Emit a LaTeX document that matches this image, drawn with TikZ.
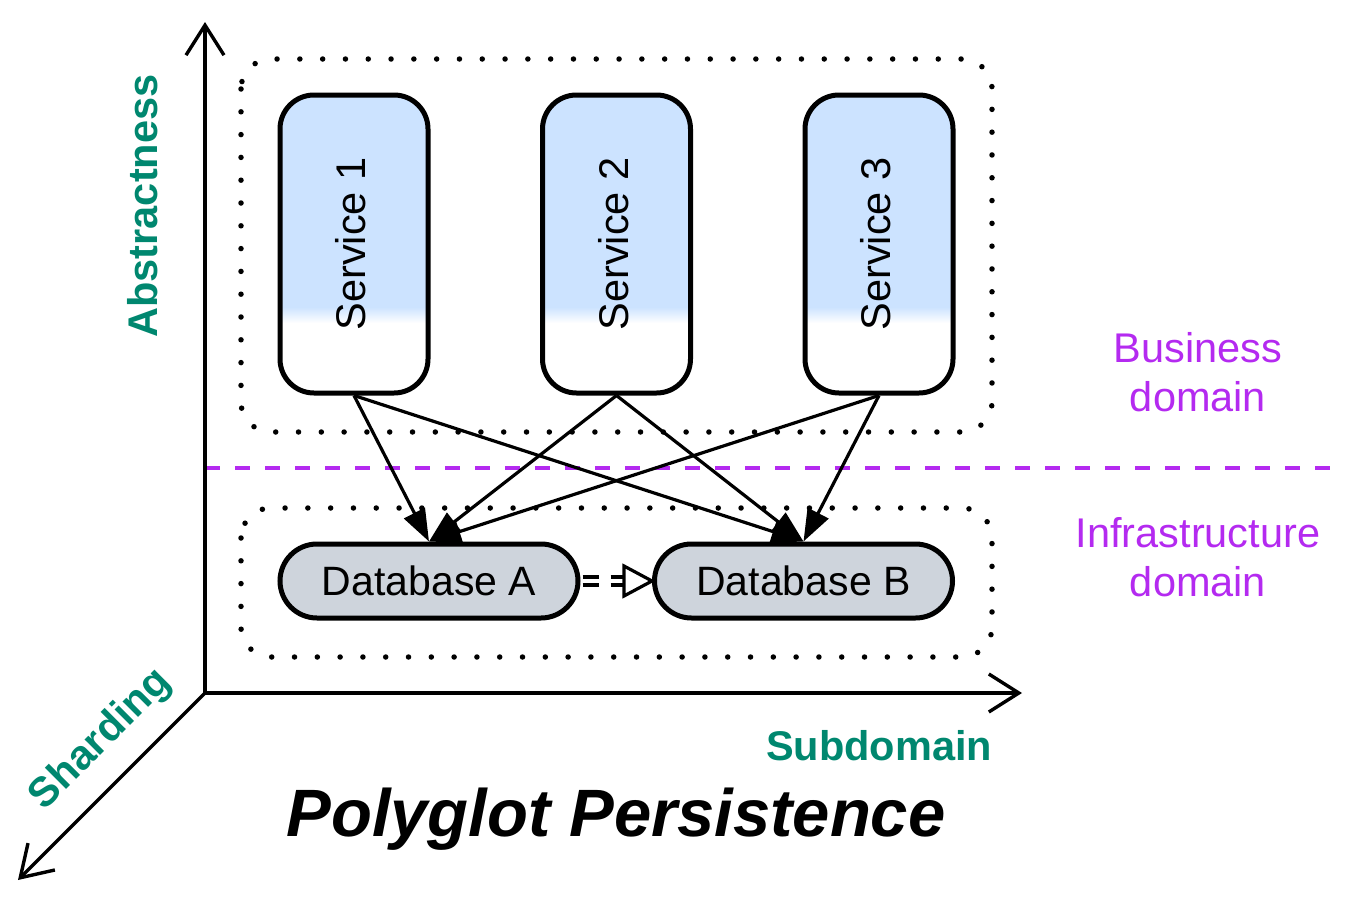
\documentclass[tikz,border=0pt]{standalone}
\usepackage{fontspec}
\setmainfont{Liberation Sans}
\usetikzlibrary{arrows.meta,calc}
\definecolor{svcblue}{HTML}{CCE3FF}
\definecolor{dbgrey}{HTML}{CED4DC}
\definecolor{teal}{HTML}{00876F}
\definecolor{purp}{HTML}{B42AF0}
\tikzset{
  svc/.style={draw, line width=5pt, rounded corners=34pt, minimum width=148pt, minimum height=298pt, inner sep=0pt,
    path picture={
      \fill[svcblue, sharp corners] (path picture bounding box.north west) rectangle ($(path picture bounding box.south east)+(0,-85)$);
      \shade[top color=svcblue, bottom color=white, sharp corners] ($(path picture bounding box.south west)+(0,-86)$) rectangle ($(path picture bounding box.south east)+(0,-70)$);
    },
    font=\fontsize{41.5}{48}\selectfont},
  db/.style={draw, line width=5pt, rounded corners=37pt, fill=dbgrey, minimum width=298pt, minimum height=74pt, inner sep=0pt,
    font=\fontsize{41}{48}\selectfont},
  conn/.style={line width=3.2pt, -{Triangle[length=32pt,width=23pt]}},
  axis/.style={line width=3.4pt, -{Straight Barb[length=30pt,width=38pt,line width=3.4pt]}},
  zone/.style={line width=5.5pt, line cap=round, dash pattern=on 0pt off 22.8pt, rounded corners=30pt},
  axlabel/.style={text=teal, font=\bfseries\fontsize{41.5}{48}\selectfont, inner sep=0pt},
  domlabel/.style={text=purp, font=\fontsize{41.5}{49}\selectfont, align=center, inner sep=0pt},
}
\begin{document}
\begin{tikzpicture}[x=1pt,y=-1pt]
\useasboundingbox (0,0) rectangle (1350,902);
% zones
\draw[zone] (241,59) rectangle (992,432);
\draw[zone] (241,508) rectangle (992,657);
% divider
\coordinate (dl) at (205,468);
\coordinate (dr) at (1330,468);
\draw[purp, line width=4pt, dash pattern=on 15pt off 15pt] (dl) -- (dr);
% services
\node[svc] (s1) at (354,244) {\hspace*{-6pt}\rotatebox{90}{Service 1}};
\node[svc] (s2) at (616.5,244) {\hspace*{-6pt}\rotatebox{90}{Service 2}};
\node[svc] (s3) at (879,244) {\hspace*{-6pt}\rotatebox{90}{Service 3}};
% databases
\node[db] (dba) at (429,581) {Database A};
\node[db] (dbb) at (803.5,581) {Database B};
% connectors
\draw[conn] (s1.south) -- (dba.north);
\draw[conn] (s1.south) -- (dbb.north);
\draw[conn] (s2.south) -- (dba.north);
\draw[conn] (s2.south) -- (dbb.north);
\draw[conn] (s3.south) -- (dba.north);
\draw[conn] (s3.south) -- (dbb.north);
% replication arrow
\coordinate (tb) at ($(dbb.west)+(-28,0)$);
\draw[line width=3.2pt, dash pattern=on 16pt off 12pt] ($(dba.east)+(2,-4)$) -- ($(tb)+(0,-4)$);
\draw[line width=3.2pt, dash pattern=on 16pt off 12pt] ($(dba.east)+(2,4)$) -- ($(tb)+(0,4)$);
\draw[line width=3.2pt, fill=white] ($(tb)+(0,-15)$) -- (dbb.west) -- ($(tb)+(0,15)$) -- cycle;
% axes
\coordinate (o) at (205,693);
\coordinate (ay) at (205,22);
\coordinate (ax) at (1022,693);
\coordinate (az) at (18,880);
\draw[axis] (o) -- (ay);
\draw[axis] (o) -- (ax);
\draw[axis] (o) -- (az);
% labels
\node[axlabel, rotate=90] (labs) at (143,206) {Abstractness};
\node[axlabel] (lsub) at (879,746) {Subdomain};
\node[axlabel, rotate=45] (lsh) at (101,740) {Sharding};
\node[domlabel] (lbus) at (1198,372) {Business\\domain};
\node[domlabel] (linf) at (1198,557) {Infrastructure\\domain};
\node[font=\bfseries\itshape\fontsize{67}{72}\selectfont, inner sep=0pt] (title) at (616,819) {Polyglot Persistence};
\end{tikzpicture}
\end{document}
